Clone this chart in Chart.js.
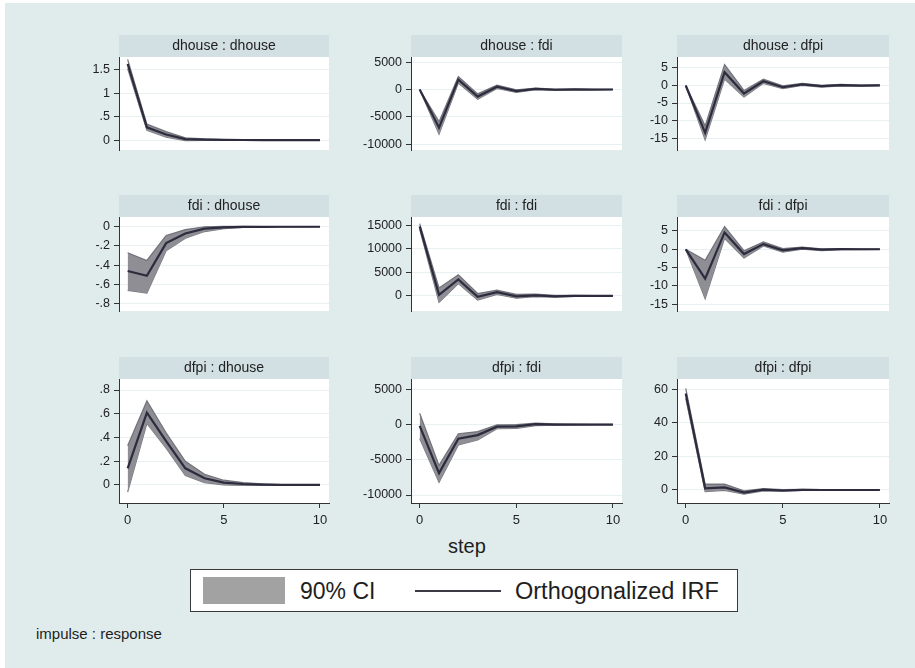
<!DOCTYPE html>
<html>
<head>
<meta charset="utf-8">
<script src="https://cdn.jsdelivr.net/npm/chart.js@4.4.0/dist/chart.umd.min.js"></script>
<style>
  body { margin: 0; width: 915px; height: 668px; overflow: hidden; background: #fff;
         font-family: "Liberation Sans", Arial, sans-serif; }
  #bg { position: absolute; left: 5px; top: 3px; width: 910px; height: 665px; background: #e0ecec; }
  canvas { position: absolute; }
  .txt { position: absolute; color: #1e1e1e; white-space: nowrap; }
  #legend { position: absolute; left: 190px; top: 569px; width: 546px; height: 41px;
            border: 1.5px solid #3a3a3a; background: #fff; }
</style>
</head>
<body>
<div id="bg"></div>
<div id="panels"></div>
<div class="txt" id="stepLabel" style="left:448px;top:535px;font-size:20px;">step</div>
<div id="legend">
  <div style="position:absolute;left:12px;top:7px;width:82px;height:27px;background:#a2a2a2;"></div>
  <div class="txt" style="left:109px;top:8px;font-size:23px;">90% CI</div>
  <div style="position:absolute;left:224px;top:20px;width:86px;height:1.5px;background:#3a3a44;"></div>
  <div class="txt" style="left:324px;top:8px;font-size:23.5px;">Orthogonalized IRF</div>
</div>
<div class="txt" style="left:36px;top:625px;font-size:15px;">impulse : response</div>

<script>
// steps of the impulse response
const steps = [0, 1, 2, 3, 4, 5, 6, 7, 8, 9, 10];
const xTicks = [0, 5, 10];

// impulse dhouse
const dhouseDhouseIrf = [1.62, 0.27, 0.12, 0.02, 0.01, 0.004, 0.002, 0.001, 0, 0, 0];
const dhouseDhouseLo  = [1.52, 0.21, 0.06, -0.01, -0.006, -0.004, -0.002, -0.001, 0, 0, 0];
const dhouseDhouseHi  = [1.72, 0.34, 0.18, 0.05, 0.025, 0.012, 0.006, 0.003, 0.001, 0.001, 0];

const dhouseFdiIrf = [0, -7000, 1800, -1300, 500, -300, 100, -50, 30, -10, 0];
const dhouseFdiLo  = [0, -8200, 1200, -1800, 200, -550, -50, -150, -30, -50, -20];
const dhouseFdiHi  = [0, -5900, 2400, -800, 800, -50, 250, 50, 90, 30, 20];

const dhouseDfpiIrf = [0, -13.5, 3.8, -2.3, 1.2, -0.5, 0.3, -0.2, 0.1, -0.05, 0.05];
const dhouseDfpiLo  = [0, -15.5, 1.8, -3.3, 0.6, -0.9, 0, -0.45, -0.1, -0.2, -0.05];
const dhouseDfpiHi  = [0, -11.5, 6.0, -1.4, 1.8, -0.1, 0.6, 0.05, 0.3, 0.1, 0.15];

// impulse fdi
const fdiDhouseIrf = [-0.46, -0.51, -0.17, -0.07, -0.02, -0.006, -0.002, -0.001, 0, 0, 0];
const fdiDhouseLo  = [-0.66, -0.69, -0.25, -0.12, -0.05, -0.02, -0.008, -0.004, -0.002, -0.001, 0];
const fdiDhouseHi  = [-0.27, -0.35, -0.09, -0.03, 0, 0.004, 0.003, 0.002, 0.001, 0, 0];

const fdiFdiIrf = [14800, 200, 3500, -200, 800, -100, 100, -100, 0, 0, 0];
const fdiFdiLo  = [14200, -1400, 2600, -900, 300, -500, -150, -300, -100, -60, -30];
const fdiFdiHi  = [15400, 1700, 4500, 500, 1200, 300, 350, 100, 100, 60, 30];

const fdiDfpiIrf = [0, -8, 4.6, -1.3, 1.4, -0.3, 0.3, -0.1, 0.05, 0, 0];
const fdiDfpiLo  = [0, -13.5, 3.0, -2.4, 0.9, -0.8, 0, -0.35, -0.1, -0.1, -0.05];
const fdiDfpiHi  = [0, -3, 6.2, -0.4, 2.0, 0.2, 0.6, 0.1, 0.2, 0.1, 0.05];

// impulse dfpi
const dfpiDhouseIrf = [0.14, 0.61, 0.37, 0.14, 0.056, 0.02, 0.008, 0.003, 0.001, 0, 0];
const dfpiDhouseLo  = [-0.06, 0.52, 0.31, 0.08, 0.02, 0, -0.004, -0.003, -0.002, -0.001, -0.001];
const dfpiDhouseHi  = [0.33, 0.71, 0.44, 0.2, 0.09, 0.04, 0.02, 0.01, 0.004, 0.002, 0.001];

const dfpiFdiIrf = [-200, -6900, -2000, -1500, -300, -250, 50, 0, 0, 0, 0];
const dfpiFdiLo  = [-2000, -8200, -2900, -2200, -600, -550, -150, -100, -50, -30, -20];
const dfpiFdiHi  = [1600, -5800, -1300, -1000, -50, 0, 200, 100, 50, 30, 20];

const dfpiDfpiIrf = [57.5, 1.0, 1.5, -1.5, 0.2, -0.3, 0.1, 0, 0, 0, 0];
const dfpiDfpiLo  = [54.5, -1.0, -0.2, -2.5, -0.5, -0.8, -0.3, -0.2, -0.1, -0.1, 0];
const dfpiDfpiHi  = [60.5, 3.5, 3.5, -0.5, 0.8, 0.2, 0.4, 0.2, 0.1, 0.1, 0];

// y tick labels per panel
const dhouseDhouseTicks = [0, 0.5, 1, 1.5];
const dhouseFdiTicks = [-10000, -5000, 0, 5000];
const dhouseDfpiTicks = [-15, -10, -5, 0, 5];
const fdiDhouseTicks = [-0.8, -0.6, -0.4, -0.2, 0];
const fdiFdiTicks = [0, 5000, 10000, 15000];
const fdiDfpiTicks = [-15, -10, -5, 0, 5];
const dfpiDhouseTicks = [0, 0.2, 0.4, 0.6, 0.8];
const dfpiFdiTicks = [-10000, -5000, 0, 5000];
const dfpiDfpiTicks = [0, 20, 40, 60];

// layout of the 3x3 grid (pixels)
const colAxisX = [119, 411, 677];
const colRightX = [329, 622, 889];
const rowPlotTop = [57, 217, 379];
const rowPlotBottom = [182, 343, 503];
const headerH = 22;
const yAxisW = 75;

const panels = [
  { title: 'dhouse : dhouse', row: 0, col: 0, irf: dhouseDhouseIrf, lo: dhouseDhouseLo, hi: dhouseDhouseHi, ticks: dhouseDhouseTicks, min: -0.211, max: 1.769 },
  { title: 'dhouse : fdi',    row: 0, col: 1, irf: dhouseFdiIrf, lo: dhouseFdiLo, hi: dhouseFdiHi, ticks: dhouseFdiTicks, min: -11091, max: 5955 },
  { title: 'dhouse : dfpi',   row: 0, col: 2, irf: dhouseDfpiIrf, lo: dhouseDfpiLo, hi: dhouseDfpiHi, ticks: dhouseDfpiTicks, min: -18.39, max: 8.12 },
  { title: 'fdi : dhouse',    row: 1, col: 0, irf: fdiDhouseIrf, lo: fdiDhouseLo, hi: fdiDhouseHi, ticks: fdiDhouseTicks, min: -0.875, max: 0.101 },
  { title: 'fdi : fdi',       row: 1, col: 1, irf: fdiFdiIrf, lo: fdiFdiLo, hi: fdiFdiHi, ticks: fdiFdiTicks, min: -3226, max: 16796 },
  { title: 'fdi : dfpi',      row: 1, col: 2, irf: fdiDfpiIrf, lo: fdiDfpiLo, hi: fdiDfpiHi, ticks: fdiDfpiTicks, min: -16.83, max: 8.80 },
  { title: 'dfpi : dhouse',   row: 2, col: 0, irf: dfpiDhouseIrf, lo: dfpiDhouseLo, hi: dfpiDhouseHi, ticks: dfpiDhouseTicks, min: -0.152, max: 0.893 },
  { title: 'dfpi : fdi',      row: 2, col: 1, irf: dfpiFdiIrf, lo: dfpiFdiLo, hi: dfpiFdiHi, ticks: dfpiFdiTicks, min: -11135, max: 6462 },
  { title: 'dfpi : dfpi',     row: 2, col: 2, irf: dfpiDfpiIrf, lo: dfpiDfpiLo, hi: dfpiDfpiHi, ticks: dfpiDfpiTicks, min: -7.75, max: 66.1 }
];

// Stata style labels: .5, -.2
function stataNum(v) {
  return String(Math.round(v * 1000) / 1000).replace(/^(-?)0\./, '$1.');
}

// header strip + white plot region
const panelHeader = {
  id: 'panelHeader',
  beforeDraw(chart, args, opts) {
    const { ctx, chartArea: a } = chart;
    ctx.save();
    ctx.fillStyle = '#ffffff';
    ctx.fillRect(a.left, a.top, a.right - a.left, a.bottom - a.top);
    ctx.fillStyle = '#d2dfe3';
    ctx.fillRect(a.left, a.top - headerH, a.right - a.left, headerH);
    ctx.fillStyle = '#222';
    ctx.font = '14px "Liberation Sans", Arial, sans-serif';
    ctx.textAlign = 'center';
    ctx.textBaseline = 'middle';
    ctx.fillText(opts.text, (a.left + a.right) / 2, a.top - headerH / 2);
    ctx.restore();
  }
};

const holder = document.getElementById('panels');

panels.forEach(p => {
  const last = p.row === 2;
  const left = colAxisX[p.col] - yAxisW;
  const top = rowPlotTop[p.row] - headerH - 2;
  const width = colRightX[p.col] - colAxisX[p.col] + yAxisW + 4;
  const height = rowPlotBottom[p.row] - top + (last ? 32 : 4);

  const canvas = document.createElement('canvas');
  canvas.width = width;
  canvas.height = height;
  canvas.style.left = left + 'px';
  canvas.style.top = top + 'px';
  canvas.style.width = width + 'px';
  canvas.style.height = height + 'px';
  holder.appendChild(canvas);

  new Chart(canvas.getContext('2d'), {
    type: 'line',
    data: {
      datasets: [
        {
          label: 'lower',
          data: steps.map((s, i) => ({ x: s, y: p.lo[i] })),
          borderColor: 'rgba(105,105,114,0.9)',
          borderWidth: 1.2,
          pointRadius: 0,
          fill: false,
          order: 2
        },
        {
          label: '90% CI',
          data: steps.map((s, i) => ({ x: s, y: p.hi[i] })),
          borderColor: 'rgba(105,105,114,0.9)',
          borderWidth: 1.2,
          backgroundColor: 'rgb(142,142,148)',
          pointRadius: 0,
          fill: '-1',
          order: 1
        },
        {
          label: 'Orthogonalized IRF',
          data: steps.map((s, i) => ({ x: s, y: p.irf[i] })),
          borderColor: 'rgb(44,44,62)',
          borderWidth: 2.2,
          pointRadius: 0,
          fill: false,
          order: 0
        }
      ]
    },
    options: {
      responsive: false,
      animation: false,
      events: [],
      layout: {
        autoPadding: false,
        padding: { left: 0, right: 4, top: headerH + 2, bottom: last ? 0 : 4 }
      },
      plugins: {
        legend: { display: false },
        tooltip: { enabled: false },
        panelHeader: { text: p.title }
      },
      scales: {
        x: {
          type: 'linear',
          min: -0.45,
          max: 10.47,
          display: last,
          afterFit: s => { s.height = 32; },
          afterBuildTicks: s => { s.ticks = xTicks.map(v => ({ value: v })); },
          grid: { drawOnChartArea: false, tickLength: 5, tickColor: '#333' },
          border: { display: true, color: '#333', width: 1 },
          ticks: {
            padding: 5,
            color: '#222',
            font: { size: 13, family: '"Liberation Sans", Arial, sans-serif' },
            callback: v => stataNum(v)
          }
        },
        y: {
          min: p.min,
          max: p.max,
          afterFit: s => { s.width = yAxisW; },
          afterBuildTicks: s => { s.ticks = p.ticks.map(v => ({ value: v })); },
          grid: { color: '#e8f0f1', tickLength: 5, tickColor: '#333' },
          border: { display: true, color: '#333', width: 1 },
          ticks: {
            padding: 4,
            color: '#222',
            font: { size: 12.5, family: '"Liberation Sans", Arial, sans-serif' },
            callback: v => stataNum(v)
          }
        }
      }
    },
    plugins: [panelHeader]
  });
});
</script>
</body>
</html>
